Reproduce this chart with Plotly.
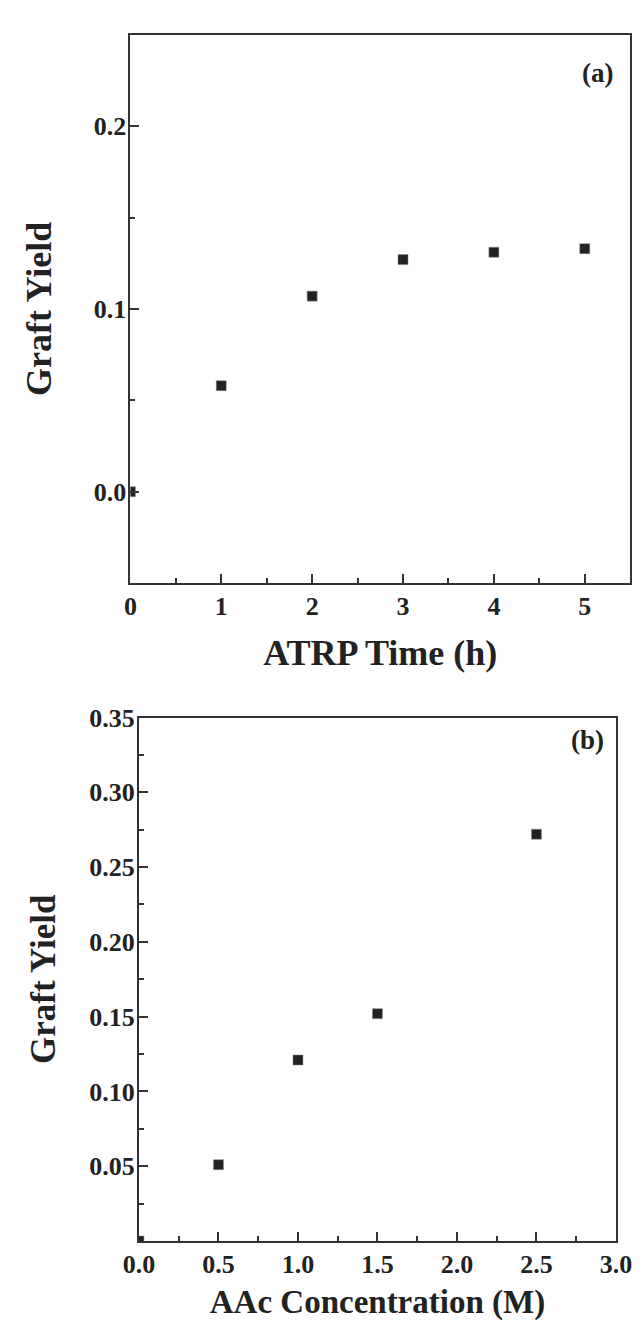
import plotly.graph_objects as go

# panel (a): graft yield vs ATRP time
time_h = [0, 1, 2, 3, 4, 5]
yield_a = [0.0, 0.058, 0.107, 0.127, 0.131, 0.133]

# panel (b): graft yield vs AAc concentration
aac_M = [0, 0.5, 1.0, 1.5, 2.5]
yield_b = [0.0, 0.051, 0.121, 0.152, 0.272]

ytick_b = [0.05, 0.10, 0.15, 0.20, 0.25, 0.30, 0.35]

W, H = 642, 1324
font = dict(family="Liberation Serif, Times New Roman, serif", color="#222", weight="bold")
tickfont = dict(font, size=26)
marker = dict(symbol="square", size=10, color="#222", line=dict(color="#888", width=0.5))

fig = go.Figure()
fig.add_trace(go.Scatter(x=time_h, y=yield_a, mode="markers", marker=marker,
                         xaxis="x", yaxis="y", showlegend=False))
fig.add_trace(go.Scatter(x=aac_M, y=yield_b, mode="markers", marker=marker,
                         xaxis="x2", yaxis="y2", showlegend=False))

axis_common = dict(showline=True, linecolor="#333", linewidth=2, mirror=True,
                   ticks="inside", ticklen=9, tickwidth=1.5, tickcolor="#333",
                   showgrid=False, zeroline=False, tickfont=tickfont)

fig.update_layout(
    width=W, height=H,
    margin=dict(l=0, r=0, t=0, b=0),
    plot_bgcolor="white", paper_bgcolor="white",
    xaxis=dict(axis_common, domain=[112 / W, 638 / W], anchor="y",
               range=[0, 5.5], dtick=1, tick0=0, ticklabelstandoff=-1,
               minor=dict(ticks="inside", ticklen=5, dtick=0.5, tick0=0, tickcolor="#333"),
               title=dict(text="ATRP Time (h)", font=dict(font, size=36), standoff=20)),
    yaxis=dict(axis_common, domain=[1 - 567 / H, 1 - 13 / H], anchor="x",
               range=[-0.05, 0.25], dtick=0.1, tick0=0, tickformat=".1f",
               ticklabelstandoff=-3,
               minor=dict(ticks="inside", ticklen=5, dtick=0.05, tick0=0, tickcolor="#333"),
               title=dict(text="Graft Yield", font=dict(font, size=36), standoff=31)),
    xaxis2=dict(axis_common, domain=[121 / W, 623 / W], anchor="y2",
                range=[0, 3.0], dtick=0.5, tick0=0, tickformat=".1f", ticklabelstandoff=-1,
                minor=dict(ticks="inside", ticklen=5, dtick=0.25, tick0=0, tickcolor="#333"),
                title=dict(text="AAc Concentration (M)", font=dict(font, size=33), standoff=12)),
    yaxis2=dict(axis_common, domain=[1 - 1232 / H, 1 - 703 / H], anchor="x2",
                range=[0, 0.35], tickmode="array", tickvals=ytick_b,
                ticktext=[f"{v:.2f}" for v in ytick_b], ticklabelstandoff=-3,
                minor=dict(ticks="inside", ticklen=5, dtick=0.025, tick0=0, tickcolor="#333"),
                title=dict(text="Graft Yield", font=dict(font, size=35), standoff=23)),
    annotations=[
        dict(text="(a)", x=0.97, y=0.229, xref="x domain", yref="y", showarrow=False,
             xanchor="right", yanchor="middle", font=dict(font, size=27)),
        dict(text="(b)", x=0.98, y=0.335, xref="x2 domain", yref="y2", showarrow=False,
             xanchor="right", yanchor="middle", font=dict(font, size=27)),
    ],
)

fig.write_html("out.html")
